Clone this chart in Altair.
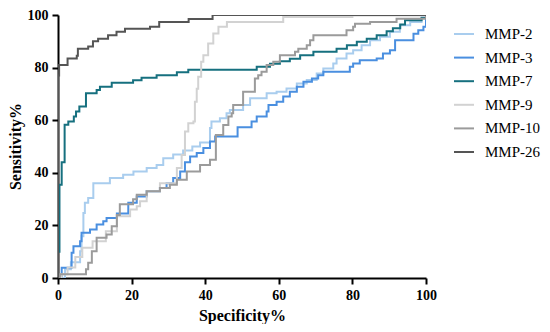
import altair as alt
import pandas as pd

series_names = ["MMP-2", "MMP-3", "MMP-7", "MMP-9", "MMP-10", "MMP-26"]
series_colors = ["#a9cdee", "#4a8fe0", "#16707f", "#d2d2d2", "#9b9b9b", "#555555"]

mmp2_x = [0, 1.9, 3.5, 6, 6.4, 6.9, 7.3, 8.2, 9.6, 14.1, 17.7, 20.5, 24.1, 26.8, 28.6, 31.3, 34, 36.5, 38.6, 41.3, 41.7, 44, 45.8, 46.7, 50.3, 52.2, 56.7, 59.4, 62.1, 64.9, 67.6, 70.3, 72.1, 74.8, 75.7, 78.4, 80.2, 82.5, 84.8, 87.5, 90.2, 92.9, 95.7, 98.8, 100]
mmp2_y = [0, 3.3, 6, 10.2, 15.9, 24.7, 28.6, 30.4, 36, 38, 39.3, 40.5, 41.8, 43, 45.5, 47, 48.5, 50, 51.5, 57, 59.5, 60.7, 62.6, 63.9, 65.8, 68.3, 70.2, 70.8, 72.1, 74, 75.3, 77.8, 79.7, 81.6, 83.5, 85.4, 86.6, 88.5, 90.4, 91.7, 93.6, 96.1, 97.3, 99.2, 100]

mmp3_x = [0, 1, 3.7, 4.2, 6, 6.4, 8.7, 10.5, 12.3, 13.2, 16, 19.1, 21.4, 24.1, 27.7, 29.5, 31.3, 33.2, 34.5, 35.9, 37.7, 39.5, 41.3, 42.7, 48.8, 52.6, 54, 56.7, 57.2, 59.4, 61.2, 63, 64.9, 66.7, 69, 70.7, 72.1, 79.3, 80.2, 82, 86.6, 88.3, 90.2, 91.6, 96.6, 97.9, 99.3, 100]
mmp3_y = [0, 3.9, 9.6, 12.1, 14, 17.2, 18.4, 20.3, 21.6, 22.8, 24.5, 28.6, 31, 33, 34.2, 36, 38, 40.5, 44, 46.2, 47.5, 49.4, 51.9, 53.8, 57.3, 59.5, 61.4, 63.3, 65.8, 67, 69, 70.8, 72.7, 74.6, 75.9, 77.1, 78.4, 80.3, 81.6, 82.8, 83.5, 85.4, 86.6, 90.4, 92.9, 94.2, 95.5, 100]

mmp7_x = [0, 0, 0.4, 1, 1.8, 2.8, 4.3, 4.9, 5.8, 7.6, 10.5, 11.4, 14.6, 20.4, 22.7, 26.8, 32.3, 35.4, 54, 57.6, 60.3, 63, 65.8, 69.4, 75.7, 78.5, 81.2, 83.9, 86.6, 89.3, 91, 93, 94.3, 98.8, 100]
mmp7_y = [0, 10, 35.5, 44, 58.3, 59.5, 61.4, 63.3, 65.2, 70.2, 71.5, 72.7, 74.2, 75.2, 76.1, 77.1, 78.2, 79.2, 80.3, 81.5, 82.4, 83.4, 84.7, 86, 87.2, 88.5, 89.8, 91, 92.3, 93.8, 95, 96.4, 98, 98.9, 100]

mmp9_x = [0, 1, 2.6, 4.7, 6.6, 9.4, 13, 16, 19.6, 21.4, 22.3, 24.1, 27.7, 32.3, 33.6, 34.5, 35.4, 36.8, 37.2, 37.7, 38.1, 38.9, 39.5, 40.8, 42.2, 43.6, 45.9, 61.2, 80, 100]
mmp9_y = [0, 1.4, 4, 8, 11.5, 14, 17.8, 23.5, 26, 27.3, 29.2, 33, 36, 41.8, 46.8, 55.7, 58.8, 59.5, 67, 72, 76.5, 82.2, 84.7, 89.2, 93, 95.5, 97.3, 99.2, 99.8, 100]

mmp10_x = [0, 0.5, 7.6, 8.2, 9.2, 10.5, 13.2, 14.6, 16, 16.8, 20.4, 21.4, 24.1, 27.7, 30.4, 32.3, 35, 38.6, 41.3, 42.9, 44.9, 46.3, 47.2, 47.6, 50.3, 53.5, 54.4, 55.3, 56.7, 58.5, 60.3, 64.4, 65.3, 67.6, 68.5, 69.4, 78.4, 80.2, 80.7, 84.8, 92, 100]
mmp10_y = [0, 1.4, 3.3, 5.8, 10.2, 15.3, 16.5, 19.7, 24, 28, 29.9, 31.7, 33, 34.2, 35.5, 37.4, 40.5, 43, 45, 54.4, 58.2, 61.4, 62.6, 65.8, 70.8, 75.9, 77.1, 78.4, 81, 82.2, 84.7, 86, 87.2, 88.5, 90.4, 92.3, 94.2, 95.5, 96.7, 97.3, 98.6, 100]

mmp26_x = [0, 0, 0.3, 2.6, 5.1, 5.4, 8.2, 9.5, 10.9, 13.6, 15.9, 18.2, 25, 27.5, 35.5, 42, 100]
mmp26_y = [0, 77, 81, 83.5, 84.5, 87.2, 88, 90, 91, 92.3, 93.6, 94.8, 95.5, 97.3, 98.5, 100, 100]

xs = [mmp2_x, mmp3_x, mmp7_x, mmp9_x, mmp10_x, mmp26_x]
ys = [mmp2_y, mmp3_y, mmp7_y, mmp9_y, mmp10_y, mmp26_y]

rows = []
for name, xv, yv in zip(series_names, xs, ys):
    for i, (a, b) in enumerate(zip(xv, yv)):
        rows.append({"series": name, "spec": a, "sens": b, "idx": i})
df = pd.DataFrame(rows)

FONT = "Liberation Serif"

chart = alt.Chart(df).mark_line(
    interpolate="step-after", strokeWidth=2, clip=True
).encode(
    x=alt.X("spec:Q", scale=alt.Scale(domain=[0, 100], nice=False),
            axis=alt.Axis(values=[0, 20, 40, 60, 80, 100], title="Specificity%",
                          titleY=42, titleBaseline="alphabetic")),
    y=alt.Y("sens:Q", scale=alt.Scale(domain=[0, 100], nice=False),
            axis=alt.Axis(values=[0, 20, 40, 60, 80, 100], title="Sensitivity%",
                          titleX=-38, titleY=131, titleBaseline="alphabetic", titleAngle=-90)),
    color=alt.Color("series:N",
                    scale=alt.Scale(domain=series_names, range=series_colors),
                    sort=series_names,
                    legend=alt.Legend(title=None, orient="none", legendX=395, legendY=8,
                                      symbolType="stroke", symbolSize=400, symbolStrokeWidth=2,
                                      labelFont=FONT, labelFontSize=15, labelColor="black",
                                      labelOffset=10, rowPadding=4.6, padding=0)),
    detail="series:N",
    order="idx:Q",
).properties(
    width=368, height=263,
    autosize="none",
    padding={"left": 50, "top": 7, "right": 116, "bottom": 46},
).configure_view(stroke=None).configure_axis(
    grid=False, domainColor="black", domainWidth=2, tickColor="black", tickWidth=2,
    tickSize=6, labelFont=FONT, labelFontSize=14, labelFontWeight="bold",
    labelColor="black", labelPadding=4, titleFont=FONT, titleFontSize=16,
    titleFontWeight="bold", titleColor="black", zindex=1, labelFlush=False,
)

chart.save("out.html", embed_options={"renderer": "svg", "actions": False})
